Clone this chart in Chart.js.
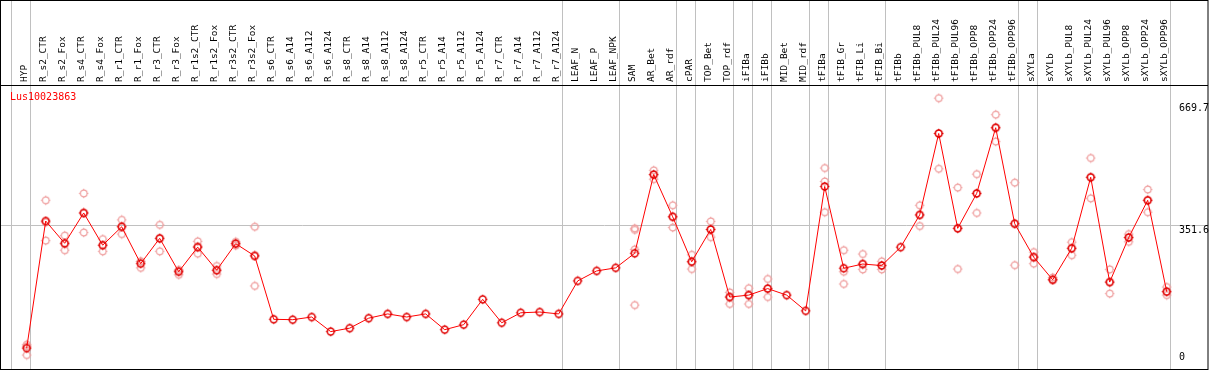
<!DOCTYPE html>
<html>
<head>
<meta charset="utf-8">
<script src="https://cdn.jsdelivr.net/npm/chart.js@4.4.0/dist/chart.umd.min.js"></script>
<style>
html,body{margin:0;padding:0;background:#fff;}
#wrap{width:1209px;height:370px;position:relative;}
canvas{display:block;}
</style>
</head>
<body>
<div id="wrap"><canvas id="c" width="1209" height="370"></canvas></div>
<script>
const geneName = 'Lus10023863';
const categories = ['HYP','R_s2_CTR','R_s2_Fox','R_s4_CTR','R_s4_Fox','R_r1_CTR','R_r1_Fox','R_r3_CTR','R_r3_Fox','R_r1s2_CTR','R_r1s2_Fox','R_r3s2_CTR','R_r3s2_Fox','R_s6_CTR','R_s6_A14','R_s6_A112','R_s6_A124','R_s8_CTR','R_s8_A14','R_s8_A112','R_s8_A124','R_r5_CTR','R_r5_A14','R_r5_A112','R_r5_A124','R_r7_CTR','R_r7_A14','R_r7_A112','R_r7_A124','LEAF_N','LEAF_P','LEAF_NPK','SAM','AR_Bet','AR_rdf','cPAR','TOP_Bet','TOP_rdf','iFIBa','iFIBb','MID_Bet','MID_rdf','tFIBa','tFIB_Gr','tFIB_Li','tFIB_Bi','tFIBb','tFIBb_PUL8','tFIBb_PUL24','tFIBb_PUL96','tFIBb_OPP8','tFIBb_OPP24','tFIBb_OPP96','sXYLa','sXYLb','sXYLb_PUL8','sXYLb_PUL24','sXYLb_PUL96','sXYLb_OPP8','sXYLb_OPP24','sXYLb_OPP96'];
const meanValues = [33,364,306,385,301,349,253,319,232,296,236,305,273,108,107,114,76,85,111,122,114,122,81,94,160,99,125,127,122,208,234,242,280,485,375,258,342,166,171,188,171,130,454,241,252,248,296,380,592,345,436,607,357,270,211,293,478,205,321,418,180];
const rep1 = [42,418,326,436,317,367,259,354,236,311,247,310,349,null,null,null,null,null,null,null,null,null,null,null,null,null,null,null,null,null,null,null,345,496,405,276,363,178,189,213,null,null,502,288,278,259,null,405,684,451,486,641,464,283,217,309,528,238,330,446,192];
const rep2 = [38,313,288,334,285,330,242,285,224,279,226,300,195,null,null,null,null,null,null,null,null,null,null,null,null,null,null,null,null,null,null,null,341,473,347,239,322,148,148,166,null,null,467,232,238,238,null,351,500,239,385,571,249,253,211,275,423,175,310,387,171];
const rep3 = [15,361,304,385,301,350,258,318,236,298,235,305,275,null,null,null,null,null,null,null,null,null,null,null,null,null,null,null,null,null,null,null,290,485,375,258,342,166,171,188,null,null,387,200,252,248,null,380,592,345,436,607,357,270,211,293,478,205,321,418,180];
const rep4 = [null,null,null,null,null,null,null,null,null,null,null,null,null,null,null,null,null,null,null,null,null,null,null,null,null,null,null,null,null,null,null,null,145,null,null,null,null,null,null,null,null,null,null,null,null,null,null,null,null,null,null,null,null,null,null,null,null,null,null,null,null];
const groupEnds = [-1,0,28,31,34,35,37,38,39,41,42,45,52,53,60];
const yTickValues = [669.7,351.6,0];
const yTickLabels = ['669.7','351.6','0'];
const refLineValue = 351.6;

function makeMarker(color, lw){
  const c = document.createElement('canvas');
  c.width = 11; c.height = 11;
  const g = c.getContext('2d');
  g.strokeStyle = color; g.lineWidth = lw;
  g.beginPath(); g.arc(5.5,5.5,3.4,0,Math.PI*2); g.stroke();
  g.lineWidth = 1;
  g.beginPath();
  g.moveTo(5.5,0.8); g.lineTo(5.5,2);
  g.moveTo(5.5,9); g.lineTo(5.5,10.2);
  g.moveTo(0.8,5.5); g.lineTo(2,5.5);
  g.moveTo(9,5.5); g.lineTo(10.2,5.5);
  g.stroke();
  return c;
}
const mainMarker = makeMarker('#e00000',1.5);
const repMarker = makeMarker('#ef9f9f',1.2);

const FONT = 'DejaVu Sans Mono';

const framePlugin = {
  id:'frame',
  beforeDatasetsDraw(chart){
    const ctx = chart.ctx, xs = chart.scales.x, ys = chart.scales.y;
    const W = chart.width, H = chart.height;
    ctx.save();
    ctx.strokeStyle = '#c0c0c0'; ctx.lineWidth = 1;
    const step = xs.getPixelForValue(1) - xs.getPixelForValue(0);
    groupEnds.forEach(i=>{
      const x = Math.floor(xs.getPixelForValue(0) + i*step + step*0.19) + 0.5;
      ctx.beginPath(); ctx.moveTo(x,0); ctx.lineTo(x,H-1); ctx.stroke();
    });
    const yr = Math.floor(ys.getPixelForValue(refLineValue)) + 0.5;
    ctx.beginPath(); ctx.moveTo(1,yr); ctx.lineTo(W-1,yr); ctx.stroke();
    ctx.restore();
  },
  afterDraw(chart){
    const ctx = chart.ctx, ys = chart.scales.y;
    const W = chart.width, H = chart.height;
    const top = chart.chartArea.top;
    ctx.save();
    ctx.strokeStyle = '#000'; ctx.lineWidth = 1;
    ctx.strokeRect(0.5,0.5,W-1.5,H-1);
    ctx.beginPath(); ctx.moveTo(0,Math.floor(top)+0.5); ctx.lineTo(W-1,Math.floor(top)+0.5); ctx.stroke();
    ctx.font = '10px "' + FONT + '"';
    ctx.textBaseline = 'alphabetic';
    ctx.textAlign = 'left';
    ctx.fillStyle = '#000';
    yTickValues.forEach((v,k)=>{
      const py = ys.getPixelForValue(v);
      const by = v === 0 ? py - 0.3 : py + 7.5;
      ctx.fillText(yTickLabels[k], 1179, by);
    });
    ctx.fillStyle = '#ff0000';
    ctx.fillText(geneName, 10, top + 15.3);
    ctx.restore();
  }
};

function repSet(data){
  return {type:'line', data, showLine:false, pointStyle:repMarker, pointRadius:5, borderColor:'#ef9f9f', backgroundColor:'#ef9f9f'};
}

new Chart(document.getElementById('c'), {
  type:'line',
  data:{
    labels:categories,
    datasets:[
      {data:meanValues, borderColor:'#ff0000', borderWidth:1, tension:0, pointStyle:mainMarker, pointRadius:5, fill:false},
      repSet(rep1), repSet(rep2), repSet(rep3), repSet(rep4)
    ]
  },
  options:{
    responsive:false, animation:false, devicePixelRatio:1,
    layout:{padding:{left:17.2, right:32.8, top:0, bottom:1}},
    plugins:{legend:{display:false}, tooltip:{enabled:false}},
    scales:{
      x:{
        type:'category', position:'top', offset:true,
        grid:{display:false, drawTicks:false}, border:{display:false},
        ticks:{autoSkip:false, minRotation:90, maxRotation:90, padding:3, labelOffset:9.4, color:'#000', font:{family:FONT, size:9.5}},
        afterFit(s){ s.height = 85; }
      },
      y:{display:false, min:-8.4, max:718.3}
    }
  },
  plugins:[framePlugin]
});
</script>
</body>
</html>
